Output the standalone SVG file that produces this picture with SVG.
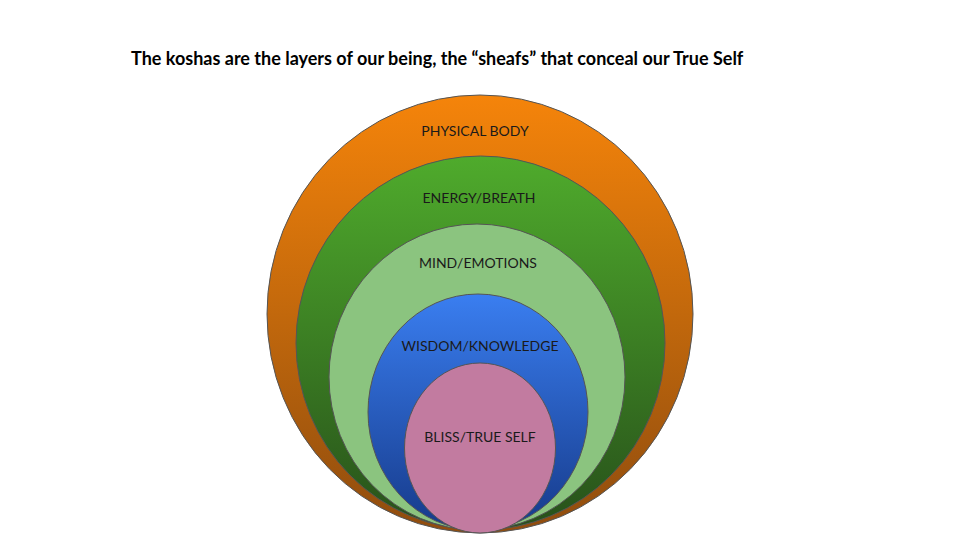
<svg xmlns="http://www.w3.org/2000/svg" width="960" height="540" viewBox="0 0 960 540">
<defs>
<linearGradient id="gO" x1="0" y1="0" x2="0" y2="1"><stop offset="0" stop-color="#f5840a"/><stop offset="1" stop-color="#8f4c0e"/></linearGradient>
<linearGradient id="gG" x1="0" y1="0" x2="0" y2="1"><stop offset="0" stop-color="#4fab2c"/><stop offset="1" stop-color="#27501a"/></linearGradient>
<linearGradient id="gB" x1="0" y1="0" x2="0" y2="1"><stop offset="0" stop-color="#3a7ef0"/><stop offset="1" stop-color="#163a8a"/></linearGradient>
<style>
ellipse{stroke:#555;stroke-width:1}
text{font-family:Lato,"Liberation Sans",sans-serif;fill:#1a1a1a;text-anchor:middle;font-size:14px}
.t{font-weight:bold;font-size:18px;text-anchor:start;fill:#000}
</style>
</defs>
<rect width="960" height="540" fill="#fff"/>
<text class="t" x="131" y="65">The koshas are the layers of our being, the “sheafs” that conceal our True Self</text>
<g id="physical"><ellipse cx="480" cy="314" rx="213" ry="219" fill="url(#gO)"/><text x="475" y="136">PHYSICAL BODY</text></g>
<g id="energy"><ellipse cx="480.5" cy="343" rx="184.5" ry="187" fill="url(#gG)"/><text x="479" y="203">ENERGY/BREATH</text></g>
<g id="mind"><ellipse cx="477" cy="377" rx="148" ry="153" fill="#8bc47f"/><text x="478" y="268">MIND/EMOTIONS</text></g>
<g id="wisdom"><ellipse cx="478" cy="412" rx="110" ry="118" fill="url(#gB)"/><text x="480" y="351">WISDOM/KNOWLEDGE</text></g>
<g id="bliss"><ellipse cx="480" cy="448" rx="75.5" ry="85" fill="#c27ba0"/><text x="480" y="442">BLISS/TRUE SELF</text></g>
<g id="connectors"/>
</svg>
